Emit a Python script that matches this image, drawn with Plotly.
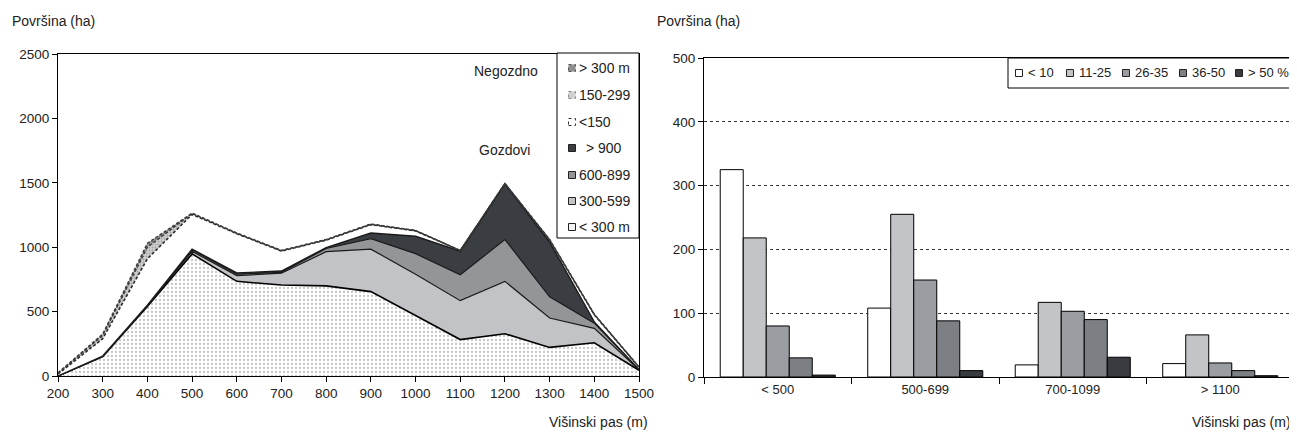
import plotly.graph_objects as go

# ---------------- Data: left chart (stacked areas, ha by elevation belt) ----------------
elev = [200, 300, 400, 500, 600, 700, 800, 900, 1000, 1100, 1200, 1300, 1400, 1500]

# Gozdovi (forests) by distance class
goz_lt300 = [0, 150, 540, 948, 735, 706, 700, 655, 470, 283, 328, 222, 258, 45]
goz_300_599 = [0, 2, 5, 20, 45, 92, 265, 330, 320, 302, 407, 228, 112, 3]
goz_600_899 = [0, 3, 5, 12, 10, 7, 25, 82, 160, 201, 324, 165, 40, 2]
goz_gt900 = [0, 0, 0, 5, 10, 10, 7, 43, 135, 184, 431, 425, 10, 0]

# Negozdno (non-forest) by distance class
neg_lt150 = [15, 135, 360, 270, 305, 155, 58, 65, 42, 3, 3, 15, 55, 18]
neg_150_299 = [5, 25, 90, 7, 3, 3, 3, 3, 2, 1, 1, 3, 3, 1]
neg_gt300 = [5, 10, 30, 3, 2, 2, 2, 2, 1, 1, 1, 2, 2, 1]

area_names = ["< 300 m", "300-599", "600-899", " > 900", "<150", "150-299", "> 300 m"]

# ---------------- Data: right chart (grouped bars) ----------------
belts = ["< 500", "500-699", "700-1099", "> 1100"]
slope_names = ["< 10", "11-25", "26-35", "36-50", "> 50 %"]
slope_lt10 = [325, 108, 19, 21]
slope_11_25 = [218, 255, 117, 66]
slope_26_35 = [80, 152, 103, 22]
slope_36_50 = [30, 88, 90, 10]
slope_gt50 = [3, 10, 31, 2]

left_ticks_y = [0, 500, 1000, 1500, 2000, 2500]
right_ticks_y = [0, 100, 200, 300, 400, 500]

FONT = "Liberation Sans, Arial, sans-serif"
TXT = "#222222"
PAGE_W, PAGE_H = 1297, 435
BODY = 8  # default page margin around the plot div
W, H = PAGE_W - BODY, PAGE_H - BODY


def px_x(p):
    return (p - BODY) / W


def px_y(p):
    return 1 - (p - BODY) / H


fig = go.Figure()

# ---------- left: stacked areas ----------
area_values = [goz_lt300, goz_300_599, goz_600_899, goz_gt900, neg_lt150, neg_150_299, neg_gt300]
area_styles = [
    dict(fillcolor="white",
         fillpattern=dict(shape=".", fgcolor="#8a8a8a", bgcolor="white", size=4, solidity=0.25),
         line=dict(color="black", width=1.6)),
    dict(fillcolor="#c2c3c6", line=dict(color="#1a1a1a", width=1.2)),
    dict(fillcolor="#939699", line=dict(color="#1a1a1a", width=1.2)),
    dict(fillcolor="#3a3e42", line=dict(color="#1a1a1a", width=1.4)),
    dict(fillcolor="white", line=dict(color="#2a2a2a", width=1.6, dash="3px,2px")),
    dict(fillcolor="#c8c8c8",
         fillpattern=dict(shape=".", fgcolor="#777", bgcolor="#cfcfcf", size=3, solidity=0.3),
         line=dict(color="#3a3a3a", width=1.4, dash="3px,2px")),
    dict(fillcolor="#8f8f8f",
         fillpattern=dict(shape=".", fgcolor="#444", bgcolor="#9a9a9a", size=3, solidity=0.3),
         line=dict(color="#3a3a3a", width=1.4, dash="3px,2px")),
]
for name, vals, style in zip(area_names, area_values, area_styles):
    fig.add_trace(go.Scatter(
        x=elev, y=vals, name=name, mode="lines", stackgroup="one",
        xaxis="x", yaxis="y", showlegend=False, **style))

# ---------- right: grouped bars ----------
bar_series = [slope_lt10, slope_11_25, slope_26_35, slope_36_50, slope_gt50]
bar_colors = ["#ffffff", "#c3c4c8", "#9a9da1", "#7c8084", "#383c40"]
for name, vals, col in zip(slope_names, bar_series, bar_colors):
    fig.add_trace(go.Bar(
        x=belts, y=vals, name=name,
        marker=dict(color=col, line=dict(color="black", width=1)),
        xaxis="x2", yaxis="y2", showlegend=False))

axis_common = dict(showline=True, linecolor="black", linewidth=1, mirror=True,
                   ticks="outside", ticklen=5, tickcolor="black", tickwidth=1,
                   tickfont=dict(family=FONT, size=13.5, color=TXT), zeroline=False,
                   automargin=False)

fig.update_layout(
    width=W, height=H, margin=dict(l=0, r=0, t=0, b=0, autoexpand=False),
    paper_bgcolor="white", plot_bgcolor="white",
    font=dict(family=FONT, size=13, color=TXT),
    barmode="group", bargap=0.22, bargroupgap=0,
    showlegend=False,
    xaxis=dict(domain=[px_x(58), px_x(639)], range=[200, 1500], tickvals=elev,
               showgrid=False, anchor="y", **axis_common),
    yaxis=dict(domain=[px_y(376), px_y(54)], range=[0, 2500], tickvals=left_ticks_y,
               showgrid=False, anchor="x", **axis_common),
    xaxis2=dict(domain=[px_x(704), px_x(1294)], type="category", tickson="boundaries",
                showgrid=False, anchor="y2",
                **{**axis_common, "ticklen": 6,
                   "tickfont": dict(family=FONT, size=13, color=TXT)}),
    yaxis2=dict(domain=[px_y(377), px_y(58)], range=[0, 500], tickvals=right_ticks_y,
                showgrid=True, gridcolor="#333", griddash="dot", gridwidth=1,
                anchor="x2", **axis_common),
)

shapes = []
annots = []


def rect(x0, y0, x1, y1, fill, line_color="black", width=1, dash=None):
    ln = dict(color=line_color, width=width)
    if dash:
        ln["dash"] = dash
    shapes.append(dict(type="rect", xref="paper", yref="paper", layer="above",
                       x0=px_x(x0), x1=px_x(x1), y0=px_y(y1), y1=px_y(y0),
                       fillcolor=fill, line=ln))


def text(t, x, y, anchor="left", size=14):
    annots.append(dict(text=t, x=px_x(x), y=px_y(y), xanchor=anchor, yanchor="middle",
                       xref="paper", yref="paper", showarrow=False,
                       font=dict(family=FONT, size=size, color=TXT)))


# ---------- custom legend, left chart ----------
rect(557, 53, 639, 238, "white")
leg_left_order = [6, 5, 4, 3, 2, 1, 0]  # top to bottom
leg_left_sym = [
    dict(fill="#8f8f8f", line_color="#555", dash="dot"),
    dict(fill="#cfcfcf", line_color="#888", dash="dot"),
    dict(fill="white", line_color="#333", dash="dot"),
    dict(fill="#3a3e42", line_color="#222"),
    dict(fill="#939699", line_color="#222"),
    dict(fill="#c2c3c6", line_color="#222"),
    dict(fill="#f2f2f2", line_color="#222"),
]
leg_left_y = [68, 95, 122, 148, 175, 201, 227]
for idx, sym, yc in zip(leg_left_order, leg_left_sym, leg_left_y):
    rect(568.5, yc - 3.5, 575.5, yc + 3.5, sym["fill"], sym["line_color"], 1, sym.get("dash"))
    name = area_names[idx]
    text(name, 577 if not name.startswith(" ") else 580, yc, size=14)

# ---------- custom legend, right chart ----------
rect(1008, 58, 1294, 88, "white")
leg_right_sym_x = [1019, 1070, 1126, 1183, 1239]
for name, col, xc in zip(slope_names, bar_colors, leg_right_sym_x):
    rect(xc - 3.5, 69.5, xc + 3.5, 76.5, col, "#222", 1)
    text(name, xc + 7, 73, size=13)

# ---------- titles ----------
text("Površina (ha)", 10, 21)
text("Površina (ha)", 655, 21)
text("Višinski pas (m)", 650, 422, anchor="right")
text("Višinski pas (m)", 1293, 422, anchor="right")
text("Negozdno", 506, 71, anchor="center")
text("Gozdovi", 504, 150, anchor="center")

fig.update_layout(shapes=shapes, annotations=annots)

fig.write_html("out.html")
